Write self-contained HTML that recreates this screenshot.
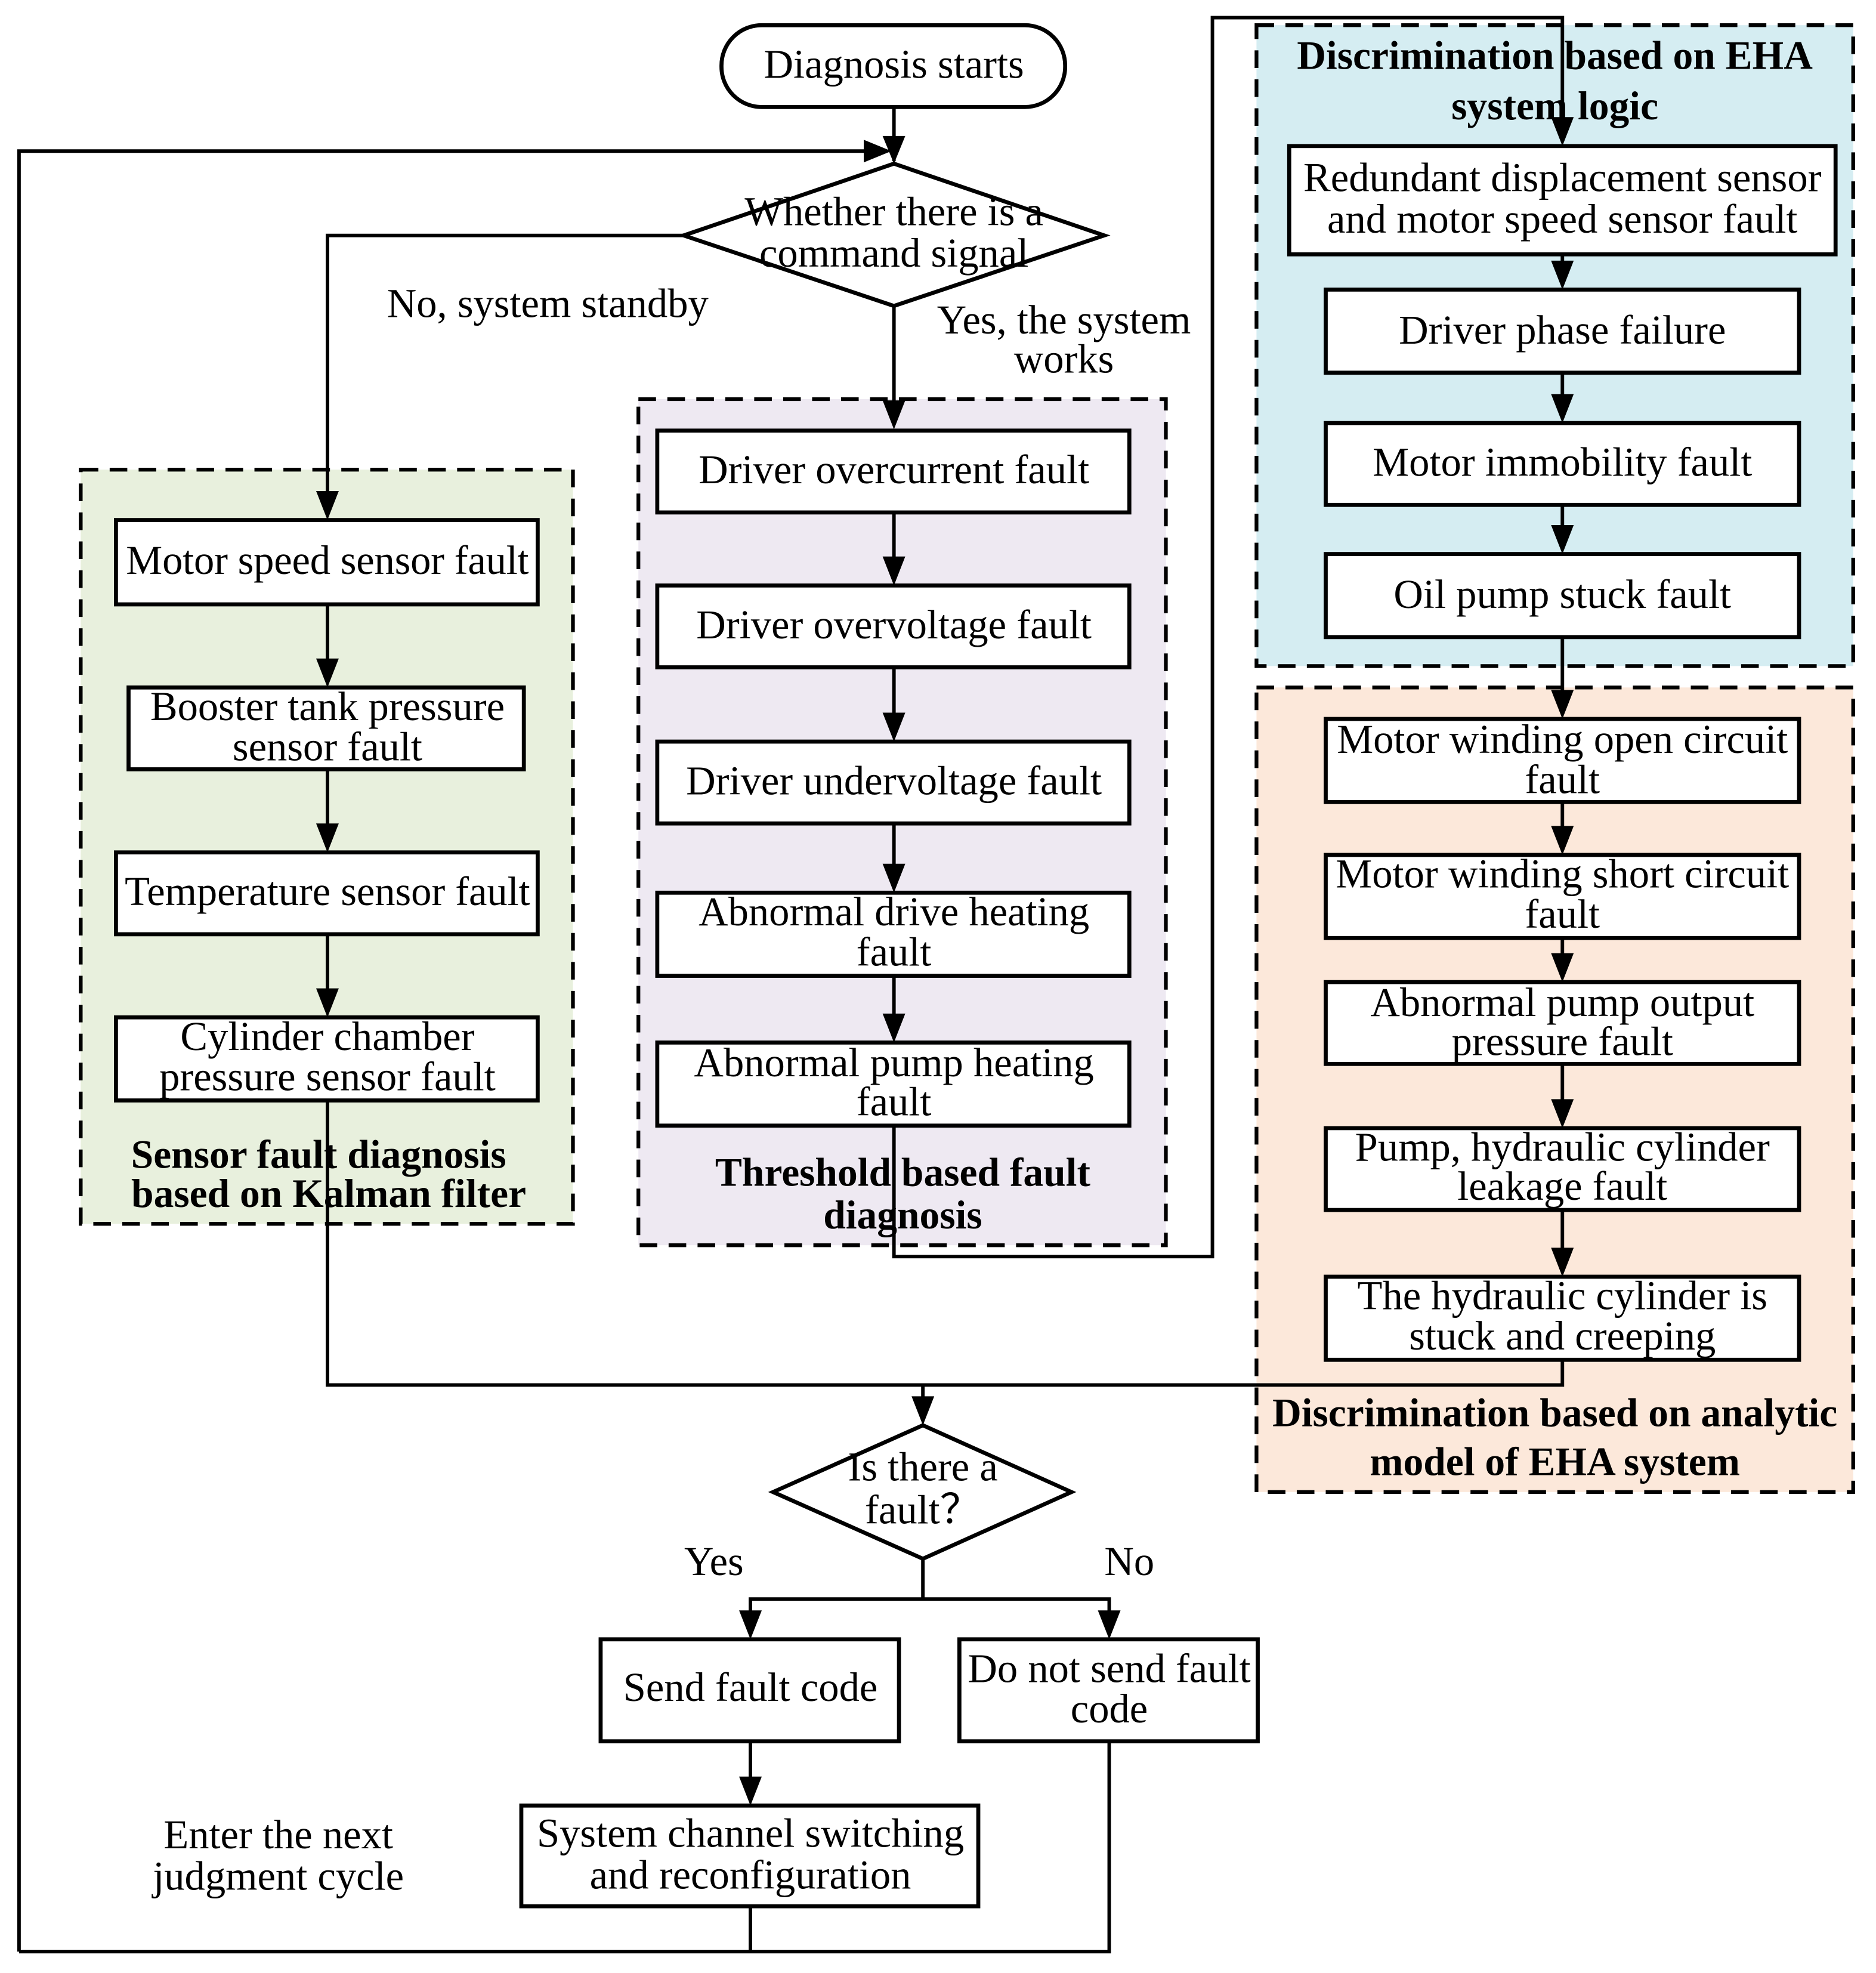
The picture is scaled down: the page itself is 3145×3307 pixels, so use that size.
<!DOCTYPE html>
<html><head><meta charset="utf-8"><style>
html,body{margin:0;padding:0;background:#fff}
svg{display:block}
text{font-family:"Liberation Serif",serif;font-size:32.5px;fill:#000;dominant-baseline:central;text-anchor:middle}
.b{font-weight:bold;font-size:32px}
.bx{fill:#fff;stroke:#000;stroke-width:3.2}
.ln{fill:none;stroke:#000;stroke-width:2.8}
.dz{stroke:#000;stroke-width:3;stroke-dasharray:14 9}
</style></head><body>
<svg width="3145" height="3307" viewBox="0 0 1490 1567" xmlns="http://www.w3.org/2000/svg">
<rect x="64" y="373" width="391" height="599" fill="#E8F0DD" class="dz"/>
<rect x="507" y="317" width="419" height="672" fill="#EEE9F2" class="dz"/>
<rect x="998" y="20" width="474" height="509" fill="#D5EDF2" class="dz"/>
<rect x="998" y="546" width="474" height="639" fill="#FCE8DA" class="dz"/>
<path class="ln" d="M710,85 V128"/>
<path d="M701,108 L719,108 L710,130Z"/>
<path class="ln" d="M15,1550 V120 H700"/>
<path d="M686,111 L708,120 L686,129Z"/>
<path class="ln" d="M543,187 H260 V410"/>
<path d="M251,390 L269,390 L260,413Z"/>
<path class="ln" d="M710,243 V330"/>
<path d="M701,318 L719,318 L710,341Z"/>
<path class="ln" d="M710,894 V998 H963 V14 H1241 V110"/>
<path d="M1232,93 L1250,93 L1241,116Z"/>
<path class="ln" d="M260,874 V1100 H1241 V1080"/>
<path class="ln" d="M733,1100 V1125"/>
<path d="M724,1109 L742,1109 L733,1132Z"/>
<path class="ln" d="M733,1238 V1270 M596,1295 V1270 H881 V1295"/>
<path d="M587,1279 L605,1279 L596,1302Z"/><path d="M872,1279 L890,1279 L881,1302Z"/>
<path class="ln" d="M596,1383 V1425"/><path d="M587,1411 L605,1411 L596,1434Z"/>
<path class="ln" d="M596,1514 V1550 M881,1383 V1550 H15"/>
<path class="ln" d="M260,480 V540 M260,611 V670 M260,742 V800 M710,407 V458 M710,530 V582 M710,654 V702 M710,775 V821 M1241,202 V224 M1241,296 V330 M1241,401 V434 M1241,506 V565 M1241,637 V673 M1241,745 V774 M1241,845 V890 M1241,961 V1008"/>
<path d="M251,523 L269,523 L260,546Z M251,654 L269,654 L260,677Z M251,785 L269,785 L260,808Z M701,442 L719,442 L710,465Z M701,566 L719,566 L710,589Z M701,686 L719,686 L710,709Z M701,805 L719,805 L710,828Z M1232,207 L1250,207 L1241,230Z M1232,313 L1250,313 L1241,336Z M1232,417 L1250,417 L1241,440Z M1232,548 L1250,548 L1241,571Z M1232,656 L1250,656 L1241,679Z M1232,757 L1250,757 L1241,780Z M1232,873 L1250,873 L1241,896Z M1232,991 L1250,991 L1241,1014Z"/>
<rect x="573" y="20" width="273" height="65" rx="32" class="bx"/>
<text x="710" y="51">Diagnosis starts</text>
<polygon points="710,130 877,187 710,243 543,187" class="bx"/>
<text x="710" y="168">Whether there is a</text><text x="710" y="201">command signal</text>
<text x="435" y="241">No, system standby</text>
<text x="845" y="254">Yes, the system</text><text x="845" y="285">works</text>

<rect x="92" y="413" width="335" height="67" class="bx"/><text x="260" y="445" textLength="320">Motor speed sensor fault</text>
<rect x="102" y="546" width="314" height="65" class="bx"/><text x="260" y="561">Booster tank pressure</text><text x="260" y="593">sensor fault</text>
<rect x="92" y="677" width="335" height="65" class="bx"/><text x="260" y="708" textLength="322">Temperature sensor fault</text>
<rect x="92" y="808" width="335" height="66" class="bx"/><text x="260" y="823">Cylinder chamber</text><text x="260" y="855">pressure sensor fault</text>
<text class="b" x="253" y="917">Sensor fault diagnosis</text><text class="b" x="261" y="948">based on Kalman filter</text>

<rect x="522" y="342" width="375" height="65" class="bx"/><text x="710" y="373">Driver overcurrent fault</text>
<rect x="522" y="465" width="375" height="65" class="bx"/><text x="710" y="496">Driver overvoltage fault</text>
<rect x="522" y="589" width="375" height="65" class="bx"/><text x="710" y="620">Driver undervoltage fault</text>
<rect x="522" y="709" width="375" height="66" class="bx"/><text x="710" y="724">Abnormal drive heating</text><text x="710" y="756">fault</text>
<rect x="522" y="828" width="375" height="66" class="bx"/><text x="710" y="844">Abnormal pump heating</text><text x="710" y="875">fault</text>
<text class="b" x="717" y="931">Threshold based fault</text><text class="b" x="717" y="965">diagnosis</text>

<text class="b" x="1235" y="44">Discrimination based on EHA</text><text class="b" x="1235" y="84">system logic</text>
<rect x="1024" y="116" width="434" height="86" class="bx"/><text x="1241" y="141">Redundant displacement sensor</text><text x="1241" y="174">and motor speed sensor fault</text>
<rect x="1053" y="230" width="376" height="66" class="bx"/><text x="1241" y="262">Driver phase failure</text>
<rect x="1053" y="336" width="376" height="65" class="bx"/><text x="1241" y="367">Motor immobility fault</text>
<rect x="1053" y="440" width="376" height="66" class="bx"/><text x="1241" y="472">Oil pump stuck fault</text>

<rect x="1053" y="571" width="376" height="66" class="bx"/><text x="1241" y="587">Motor winding open circuit</text><text x="1241" y="619">fault</text>
<rect x="1053" y="679" width="376" height="66" class="bx"/><text x="1241" y="694">Motor winding short circuit</text><text x="1241" y="726">fault</text>
<rect x="1053" y="780" width="376" height="65" class="bx"/><text x="1241" y="796">Abnormal pump output</text><text x="1241" y="827">pressure fault</text>
<rect x="1053" y="896" width="376" height="65" class="bx"/><text x="1241" y="911">Pump, hydraulic cylinder</text><text x="1241" y="942">leakage fault</text>
<rect x="1053" y="1014" width="376" height="66" class="bx"/><text x="1241" y="1029">The hydraulic cylinder is</text><text x="1241" y="1061">stuck and creeping</text>
<text class="b" x="1235" y="1122">Discrimination based on analytic</text><text class="b" x="1235" y="1161">model of EHA system</text>

<polygon points="733,1132 851,1185 733,1238 614,1185" class="bx"/>
<text x="733" y="1165">Is there a</text><text x="733" y="1199">fault？</text>
<text x="567" y="1240">Yes</text><text x="897" y="1240">No</text>
<rect x="477" y="1302" width="237" height="81" class="bx"/><text x="596" y="1340">Send fault code</text>
<rect x="762" y="1302" width="237" height="81" class="bx"/><text x="881" y="1325">Do not send fault</text><text x="881" y="1357">code</text>
<rect x="414" y="1434" width="363" height="80" class="bx"/><text x="596" y="1456">System channel switching</text><text x="596" y="1489">and reconfiguration</text>
<text x="221" y="1457">Enter the next</text><text x="221" y="1490">judgment cycle</text>
</svg>
</body></html>
